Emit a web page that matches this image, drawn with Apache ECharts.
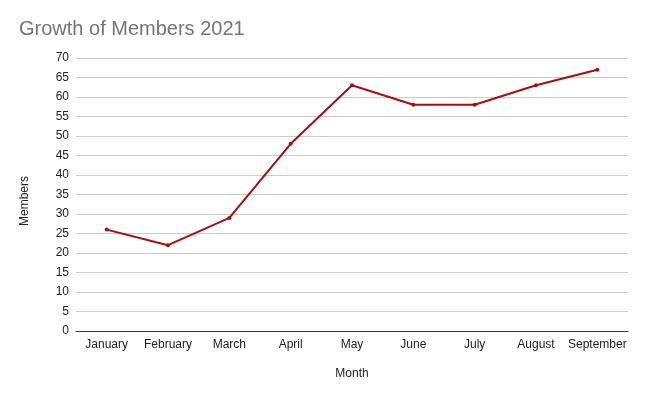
<!DOCTYPE html>
<html><head><meta charset="utf-8">
<script src="https://cdn.jsdelivr.net/npm/echarts@6/dist/echarts.min.js"></script>
<style>html,body{margin:0;padding:0;background:#fff}#c{width:647px;height:394px}</style>
</head><body><div id="c"></div>
<script>
const months = ["January","February","March","April","May","June","July","August","September"];
const members = [26,22,29,48,63,58,58,63,67];
const yTicks = {min:0,max:70,interval:5};
const chart = echarts.init(document.getElementById('c'));
const font = 'Liberation Sans, Arial, sans-serif';
chart.setOption({
  animation:false,
  title:{text:'Growth of Members 2021',left:14,top:14,textStyle:{color:'#757575',fontSize:20,fontWeight:'normal',fontFamily:font}},
  grid:{left:76,right:19,top:58,bottom:63},
  xAxis:{type:'category',data:months,boundaryGap:true,
    name:'Month',nameLocation:'middle',nameGap:37,nameTextStyle:{color:'#222',fontSize:12,fontFamily:font},
    axisLine:{lineStyle:{color:'#333',width:1}},axisTick:{show:false},
    axisLabel:{color:'#222',fontSize:12,fontFamily:font,margin:8,interval:0}},
  yAxis:{type:'value',min:yTicks.min,max:yTicks.max,interval:yTicks.interval,
    name:'Members',nameLocation:'middle',nameGap:45,nameRotate:90,nameTextStyle:{color:'#222',fontSize:12,fontFamily:font,padding:[0,13,0,0]},
    axisLine:{show:false},axisTick:{show:false},
    axisLabel:{color:'#222',fontSize:12,fontFamily:font,margin:7},
    splitLine:{lineStyle:{color:'#cccccc',width:1}}},
  series:[{type:'line',data:members,symbol:'circle',symbolSize:4,
    lineStyle:{color:'#a50e0e',width:2},itemStyle:{color:'#a50e0e'}}]
});
</script></body></html>
